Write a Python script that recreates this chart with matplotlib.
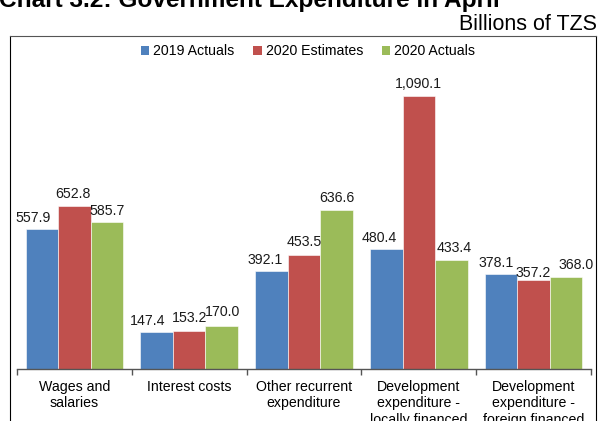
import numpy as np
import matplotlib
matplotlib.use("Agg")
import matplotlib.pyplot as plt
from matplotlib.patches import Patch
from matplotlib.lines import Line2D

plt.rcParams['font.family'] = ['Liberation Sans', 'DejaVu Sans']

# Expenditure by category, billions of TZS
categories = ["Wages and\nsalaries", "Interest costs", "Other recurrent\nexpenditure",
              "Development\nexpenditure -\nlocally financed",
              "Development\nexpenditure -\nforeign financed"]
series_names = ["2019 Actuals", "2020 Estimates", "2020 Actuals"]
actual_2019 = [557.9, 147.4, 392.1, 480.4, 378.1]
estimate_2020 = [652.8, 153.2, 453.5, 1090.1, 357.2]
actual_2020 = [585.7, 170.0, 636.6, 433.4, 368.0]
colors = ["#4F81BD", "#C0504D", "#9BBB59"]

W, H = 600, 421
PX = 72 / 100  # points per pixel
fig = plt.figure(figsize=(W / 100, H / 100), dpi=100)
ax = fig.add_axes([17 / W, (H - 369) / H, 574 / W, 309 / H])

x = np.arange(len(categories))
bw = 0.283
series = [actual_2019, estimate_2020, actual_2020]
# nudge labels sideways (pixels) so neighbours don't run into each other
label_dx = [[-9, -9.5, -6.5, -7, -4.5],
            [-1, 0, 0, 0, 0],
            [0, 1, 0, 2.5, 10]]
label_dy = [[7, 7, 7, 7, 7],
            [8, 9, 9, 8, 3],
            [7, 10, 8, 8, 8]]
for i, (vals, col) in enumerate(zip(series, colors)):
    pos = x + (i - 1) * bw
    bars = ax.bar(pos, vals, width=bw, color=col, edgecolor="white", linewidth=0.4)
    for j, (b, v) in enumerate(zip(bars, vals)):
        ax.annotate(f"{v:,.1f}", (b.get_x() + b.get_width() / 2, v),
                    xytext=(label_dx[i][j] * PX, label_dy[i][j] * PX),
                    textcoords="offset points",
                    ha="center", va="baseline", fontsize=10.2, color="#1a1a1a")

ax.set_xlim(-0.5, len(categories) - 0.5)
ax.set_ylim(0, 1234)
ax.set_yticks([])
for s in ["left", "right", "top"]:
    ax.spines[s].set_visible(False)
ax.spines["bottom"].set_color("#555555")
ax.spines["bottom"].set_linewidth(1.0)

# ticks at category boundaries, labels at the centres
ax.set_xticks(np.arange(len(categories) + 1) - 0.5)
ax.set_xticklabels([])
ax.tick_params(axis="x", which="major", length=4, color="#555555", width=1.0)
ax.set_xticks(x, minor=True)
ax.set_xticklabels(categories, minor=True, fontsize=10.2, linespacing=1.2)
ax.tick_params(axis="x", which="minor", length=0, pad=8)

handles = [Patch(facecolor=c, edgecolor="none") for c in colors]
fig.legend(handles, series_names, loc="center", bbox_to_anchor=(308 / W, (H - 51) / H),
           ncol=3, frameon=False, fontsize=10.2, handlelength=0.6, handleheight=0.6,
           handletextpad=0.3, columnspacing=1.3)

# outer chart frame
lw = 0.8
fig.add_artist(Line2D([10 / W, 10 / W], [-0.1, (H - 36) / H], color="black", lw=lw))
fig.add_artist(Line2D([596 / W, 596 / W], [-0.1, (H - 36) / H], color="black", lw=lw))
fig.add_artist(Line2D([10 / W, 596 / W], [(H - 36) / H, (H - 36) / H], color="#555555", lw=lw))

fig.text(-1 / W, (H - 6.5) / H, "Chart 3.2: Government Expenditure in April",
         ha="left", va="baseline", fontsize=17.6, fontweight="bold")
fig.text(597 / W, (H - 30) / H, "Billions of TZS", ha="right", va="baseline", fontsize=15.5)

fig.savefig("out.png", dpi=100)
